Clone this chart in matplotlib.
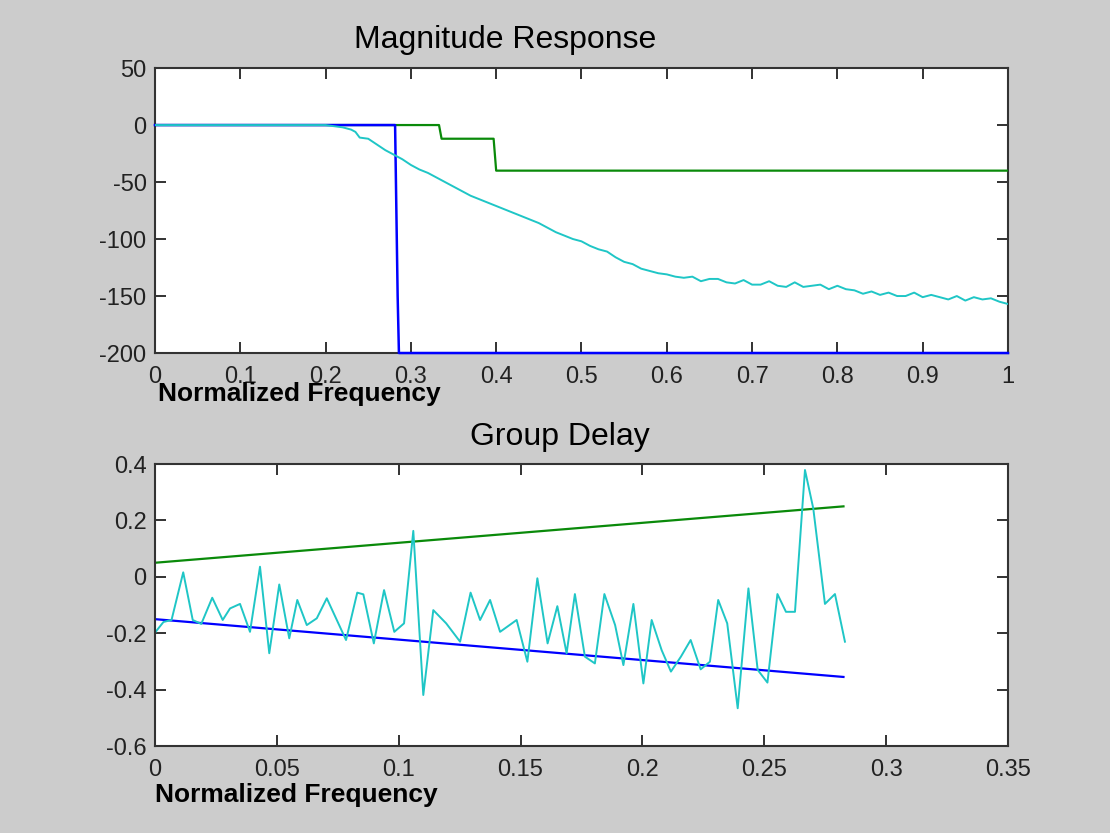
import numpy as np
import matplotlib
matplotlib.use('Agg')
import matplotlib.pyplot as plt

plt.rcParams['font.family'] = ['Liberation Sans', 'DejaVu Sans']
plt.rcParams['axes.unicode_minus'] = False

# Magnitude response data
mag_blue_f = [0, 0.2815, 0.2825, 0.2845, 0.286, 1.0]
mag_blue_db = [0, 0, -50, -150, -200, -200]

mag_green_f = [0, 0.333, 0.336, 0.397, 0.400, 1.0]
mag_green_db = [0, 0, -12, -12, -40, -40]

mag_cyan_f = [0, 0.20, 0.21, 0.22, 0.23, 0.235, 0.24, 0.25, 0.26, 0.27, 0.28, 0.29,
              0.30, 0.31, 0.32, 0.33, 0.34, 0.35, 0.36, 0.37, 0.38, 0.39,
              0.40, 0.41, 0.42, 0.43, 0.44, 0.45, 0.46, 0.47, 0.48, 0.49,
              0.50, 0.51, 0.52, 0.53, 0.54, 0.55, 0.56, 0.57, 0.58, 0.59,
              0.60, 0.61, 0.62, 0.63, 0.64, 0.65, 0.66, 0.67, 0.68, 0.69,
              0.70, 0.71, 0.72, 0.73, 0.74, 0.75, 0.76, 0.77, 0.78, 0.79,
              0.80, 0.81, 0.82, 0.83, 0.84, 0.85, 0.86, 0.87, 0.88, 0.89,
              0.90, 0.91, 0.92, 0.93, 0.94, 0.95, 0.96, 0.97, 0.98, 0.99, 1.00]
mag_cyan_db = [0, 0, -1, -2, -4, -6, -11, -12, -17, -22, -26, -30,
               -35, -39, -42, -46, -50, -54, -58, -62, -65, -68,
               -71, -74, -77, -80, -83, -86, -90, -94, -97, -100,
               -102, -106, -109, -111, -116, -120, -122, -126, -128, -130,
               -131, -133, -134, -133, -137, -135, -135, -138, -139, -136,
               -140, -140, -137, -141, -142, -138, -142, -141, -140, -144,
               -141, -144, -145, -148, -146, -149, -147, -150, -150, -147,
               -151, -149, -151, -153, -150, -154, -151, -153, -152, -155, -157]

# Group delay data
gd_green_f = [0, 0.2825]
gd_green = [0.05, 0.25]
gd_blue_f = [0, 0.2825]
gd_blue = [-0.15, -0.355]

gd_cyan_f = [0, 0.0035, 0.0068, 0.0116, 0.0155, 0.019, 0.0235, 0.0278, 0.0308, 0.0349,
             0.039, 0.0431, 0.0469, 0.051, 0.0551, 0.0584, 0.0623, 0.0664, 0.0705, 0.0784,
             0.083, 0.0855, 0.0898, 0.094, 0.0982, 0.1022, 0.106, 0.1101, 0.1142, 0.1195,
             0.1252, 0.1295, 0.1334, 0.1375, 0.1416, 0.1484, 0.1528, 0.1569, 0.1611, 0.1651,
             0.1689, 0.1723, 0.1764, 0.1805, 0.1844, 0.1888, 0.1922, 0.1963, 0.2004, 0.2038,
             0.2079, 0.2117, 0.2158, 0.2198, 0.2239, 0.2277, 0.2311, 0.2348, 0.2391, 0.2435,
             0.2473, 0.2513, 0.2554, 0.2589, 0.2626, 0.2667, 0.2701, 0.2749, 0.279, 0.2831]
gd_cyan = [-0.198, -0.16, -0.153, 0.016, -0.153, -0.167, -0.074, -0.153, -0.112, -0.096,
           -0.195, 0.036, -0.271, -0.027, -0.218, -0.082, -0.171, -0.147, -0.076, -0.224,
           -0.056, -0.062, -0.236, -0.047, -0.195, -0.165, 0.163, -0.419, -0.118, -0.165,
           -0.23, -0.056, -0.153, -0.082, -0.195, -0.153, -0.301, -0.005, -0.236, -0.104,
           -0.271, -0.061, -0.283, -0.307, -0.061, -0.171, -0.313, -0.096, -0.378, -0.153,
           -0.26, -0.336, -0.283, -0.224, -0.328, -0.301, -0.082, -0.165, -0.466, -0.041,
           -0.33, -0.375, -0.061, -0.124, -0.124, 0.379, 0.243, -0.096, -0.061, -0.23]

fig = plt.figure(figsize=(11.1, 8.33), dpi=100)
fig.patch.set_facecolor('#cccccc')

cyan = '#1fc6c6'
green = '#0a8a0a'
blue = '#0000ff'

def style(ax):
    ax.set_facecolor('white')
    ax.tick_params(direction='in', length=8, width=1.3, top=True, right=True,
                   labelsize=17, colors='#222222')
    ax.tick_params(axis='x', pad=9)
    ax.tick_params(axis='y', pad=6)
    for s in ax.spines.values():
        s.set_linewidth(1.5)
        s.set_color('#333333')

# Top: magnitude response
ax1 = fig.add_axes([0.1396, 0.5762, 0.7685, 0.3421])
ax1.plot(mag_blue_f, mag_blue_db, color=blue, lw=1.8, clip_on=False, zorder=5)
ax1.plot(mag_green_f, mag_green_db, color=green, lw=1.6, zorder=4)
ax1.plot(mag_cyan_f, mag_cyan_db, color=cyan, lw=1.4, zorder=6)
ax1.set_xlim(0, 1)
ax1.set_ylim(-200, 50)
ax1.set_xticks(np.arange(0, 1.01, 0.1))
ax1.set_xticklabels(['0', '0.1', '0.2', '0.3', '0.4', '0.5', '0.6', '0.7', '0.8', '0.9', '1'])
ax1.set_yticks([50, 0, -50, -100, -150, -200])
style(ax1)

# Bottom: group delay
ax2 = fig.add_axes([0.1396, 0.1044, 0.7685, 0.3385])
ax2.plot(gd_green_f, gd_green, color=green, lw=1.6)
ax2.plot(gd_blue_f, gd_blue, color=blue, lw=1.6)
ax2.plot(gd_cyan_f, gd_cyan, color=cyan, lw=1.4)
ax2.set_xlim(0, 0.35)
ax2.set_ylim(-0.6, 0.4)
ax2.set_xticks([0, 0.05, 0.1, 0.15, 0.2, 0.25, 0.3, 0.35])
ax2.set_xticklabels(['0', '0.05', '0.1', '0.15', '0.2', '0.25', '0.3', '0.35'])
ax2.set_yticks([0.4, 0.2, 0, -0.2, -0.4, -0.6])
ax2.set_yticklabels(['0.4', '0.2', '0', '-0.2', '-0.4', '-0.6'])
style(ax2)

# Titles and labels
fig.text(0.455, 0.952, 'Magnitude Response', fontsize=23, ha='center', va='center')
fig.text(0.5045, 0.4754, 'Group Delay', fontsize=23, ha='center', va='center')
fig.text(0.142, 0.527, 'Normalized Frequency', fontsize=19, fontweight='bold',
         ha='left', va='center')
fig.text(0.140, 0.0456, 'Normalized Frequency', fontsize=19, fontweight='bold',
         ha='left', va='center')

fig.savefig('out.png', dpi=100, facecolor=fig.get_facecolor())
